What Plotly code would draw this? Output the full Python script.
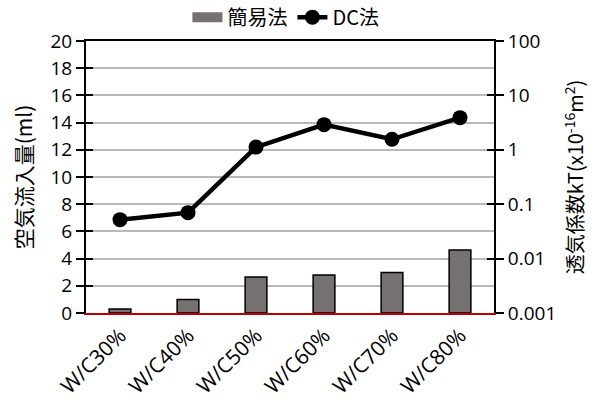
import plotly.graph_objects as go

# Mix ratios and measured values
categories = ["W/C30%", "W/C40%", "W/C50%", "W/C60%", "W/C70%", "W/C80%"]
simple_flow_ml = [0.3, 1.0, 2.65, 2.8, 2.97, 4.63]      # 簡易法: 空気流入量 (ml)
dc_kt = [0.052, 0.070, 1.12, 2.9, 1.56, 3.9]             # DC法: 透気係数 kT (x10^-16 m^2)

left_ticks = [0, 2, 4, 6, 8, 10, 12, 14, 16, 18, 20]
right_ticks = [0.001, 0.01, 0.1, 1, 10, 100]
right_ticklabels = ["0.001", "0.01", "0.1", "1", "10", "100"]

FONT = "Open Sans, Noto Sans CJK JP, sans-serif"
CJK = "Noto Sans CJK JP, Open Sans, sans-serif"
TXT = dict(family=FONT, color="black")
BAR_GRAY = "#767171"

fig = go.Figure()

fig.add_trace(go.Bar(
    x=categories, y=simple_flow_ml, name="簡易法", showlegend=False,
    marker=dict(color=BAR_GRAY, line=dict(color="black", width=1.5)),
    width=0.32, yaxis="y",
))
# wide rectangular legend key for the bar series
fig.add_trace(go.Scatter(
    x=[categories[0]], y=[None], name="簡易法", mode="lines",
    line=dict(color=BAR_GRAY, width=11), yaxis="y", hoverinfo="skip",
))

fig.add_trace(go.Scatter(
    x=categories, y=dc_kt, name="DC法", mode="lines+markers",
    line=dict(color="black", width=4.5),
    marker=dict(color="black", size=15),
    yaxis="y2",
))

fig.update_layout(
    width=599, height=408,
    margin=dict(l=86, r=105, t=41, b=95, autoexpand=False),
    paper_bgcolor="white", plot_bgcolor="white",
    font=dict(size=19, **TXT),
    showlegend=True,
    legend=dict(orientation="h", x=0.49, xanchor="center",
                yref="container", y=0.958, yanchor="middle",
                font=dict(size=20, family=CJK, color="black"), traceorder="normal",
                bgcolor="rgba(0,0,0,0)"),
    xaxis=dict(
        type="category", showgrid=False, tickangle=-45, automargin=False,
        showline=True, linecolor="#c00000", linewidth=2,
        ticks="", tickfont=dict(size=21, **TXT),
    ),
    # top border of the plot area
    xaxis2=dict(
        overlaying="x", side="top", anchor="y", type="category", automargin=False,
        showline=True, linecolor="black", linewidth=2,
        showgrid=False, showticklabels=False, ticks="",
    ),
    yaxis=dict(
        range=[0, 20], tickvals=left_ticks, showgrid=True, automargin=False,
        gridcolor="#b9b9b9", gridwidth=2, zeroline=False,
        showline=True, linecolor="black", linewidth=2,
        ticks="outside", ticklen=8, tickwidth=2, tickcolor="black",
        tickfont=dict(size=19, **TXT),
        title=dict(text="空気流入量(ml)", font=dict(size=21, family=CJK, color="black"),
                   standoff=12),
    ),
    yaxis2=dict(
        type="log", range=[-3, 2], overlaying="y", side="right", anchor="x",
        automargin=False,
        tickvals=right_ticks, ticktext=right_ticklabels, showgrid=False,
        showline=True, linecolor="black", linewidth=2,
        ticks="outside", ticklen=8, tickwidth=2, tickcolor="black",
        tickfont=dict(size=19, **TXT),
        title=dict(text="透気係数kT(x10<sup>-16</sup>m<sup>2</sup>)",
                   font=dict(size=20, family=CJK, color="black"), standoff=14),
    ),
    # companion axes that add the inner half of the crossing tick marks
    yaxis3=dict(
        range=[0, 20], tickvals=left_ticks, overlaying="y", side="left", anchor="x",
        automargin=False,
        showgrid=False, zeroline=False, showline=False, showticklabels=False,
        ticks="inside", ticklen=7, tickwidth=2, tickcolor="black",
    ),
    yaxis4=dict(
        type="log", range=[-3, 2], tickvals=right_ticks, overlaying="y", side="right",
        anchor="x", automargin=False,
        showgrid=False, zeroline=False, showline=False, showticklabels=False,
        ticks="inside", ticklen=7, tickwidth=2, tickcolor="black",
    ),
)

# invisible traces so the companion axes are rendered
fig.add_trace(go.Scatter(x=[categories[0]], y=[None], xaxis="x2", yaxis="y", showlegend=False,
                         hoverinfo="skip", mode="markers"))
fig.add_trace(go.Scatter(x=[categories[0]], y=[None], yaxis="y3", showlegend=False,
                         hoverinfo="skip", mode="markers"))
fig.add_trace(go.Scatter(x=[categories[0]], y=[None], yaxis="y4", showlegend=False,
                         hoverinfo="skip", mode="markers"))

fig.write_html("out.html")
